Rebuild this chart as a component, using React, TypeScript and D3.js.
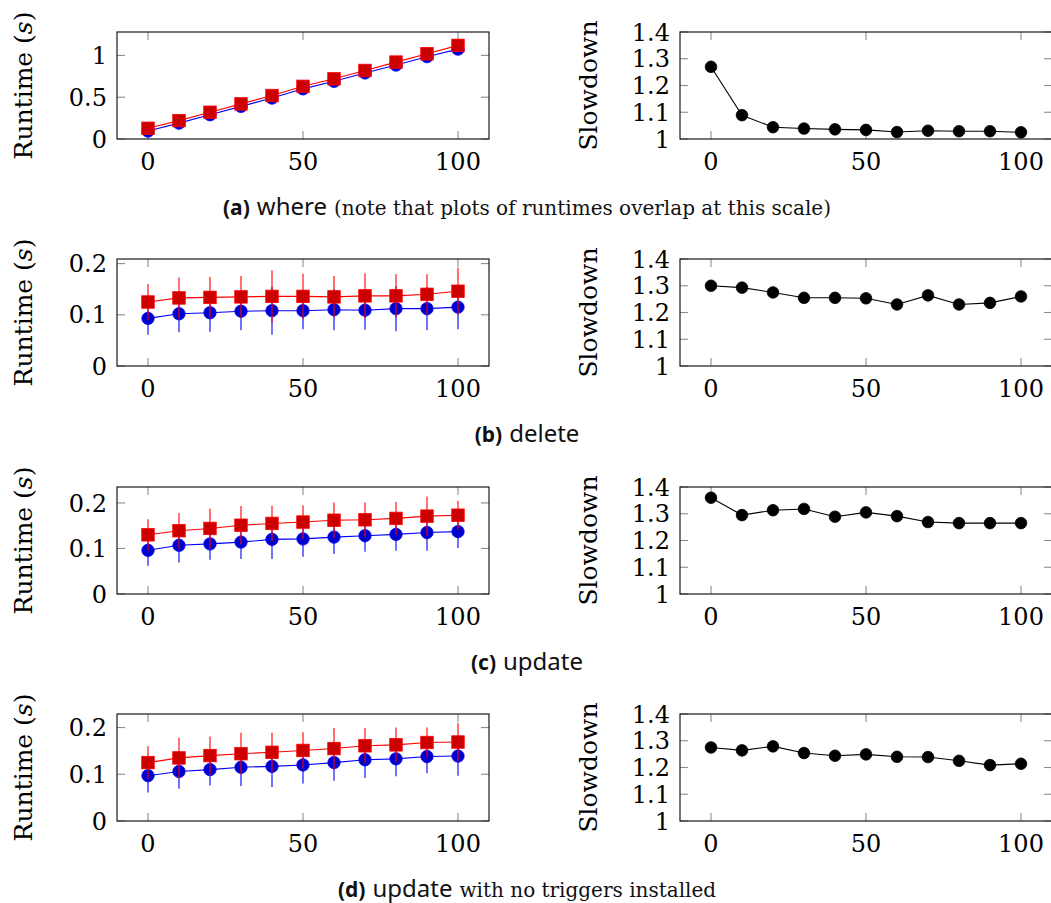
import React, { useRef, useEffect } from 'react';
import * as d3 from 'd3';

// x positions shared by all panels
const xs = [0, 10, 20, 30, 40, 50, 60, 70, 80, 90, 100];
const xTicks = [0, 50, 100];

// (a) where
const whereBase = [0.095, 0.19, 0.29, 0.39, 0.49, 0.6, 0.69, 0.79, 0.885, 0.985, 1.075];
const whereTrig = [0.128, 0.22, 0.32, 0.42, 0.52, 0.63, 0.72, 0.82, 0.92, 1.02, 1.12];
const whereSlow = [1.27, 1.089, 1.044, 1.039, 1.036, 1.034, 1.026, 1.031, 1.029, 1.029, 1.025];

// (b) delete
const deleteBase = [0.093, 0.102, 0.104, 0.107, 0.108, 0.108, 0.11, 0.109, 0.112, 0.112, 0.115];
const deleteBaseErr = [0.032, 0.036, 0.037, 0.037, 0.047, 0.036, 0.04, 0.038, 0.044, 0.042, 0.043];
const deleteTrig = [0.125, 0.133, 0.134, 0.135, 0.136, 0.136, 0.135, 0.137, 0.137, 0.14, 0.146];
const deleteTrigErr = [0.035, 0.04, 0.04, 0.041, 0.051, 0.044, 0.041, 0.044, 0.042, 0.039, 0.046];
const deleteSlow = [1.3, 1.293, 1.275, 1.255, 1.255, 1.253, 1.23, 1.264, 1.23, 1.236, 1.26];

// (c) update
const updateBase = [0.096, 0.107, 0.11, 0.114, 0.12, 0.121, 0.125, 0.128, 0.131, 0.135, 0.137];
const updateBaseErr = [0.034, 0.038, 0.035, 0.037, 0.043, 0.039, 0.037, 0.035, 0.036, 0.04, 0.036];
const updateTrig = [0.13, 0.139, 0.144, 0.151, 0.155, 0.158, 0.162, 0.163, 0.166, 0.171, 0.173];
const updateTrigErr = [0.034, 0.039, 0.044, 0.042, 0.039, 0.037, 0.039, 0.038, 0.036, 0.043, 0.032];
const updateSlow = [1.36, 1.295, 1.313, 1.318, 1.289, 1.305, 1.291, 1.269, 1.265, 1.265, 1.265];

// (d) update, no triggers installed
const noTrigBase = [0.097, 0.106, 0.11, 0.115, 0.117, 0.12, 0.125, 0.131, 0.133, 0.138, 0.139];
const noTrigBaseErr = [0.036, 0.037, 0.034, 0.04, 0.044, 0.04, 0.039, 0.039, 0.037, 0.036, 0.042];
const noTrigTrig = [0.125, 0.135, 0.14, 0.144, 0.147, 0.151, 0.155, 0.161, 0.163, 0.168, 0.169];
const noTrigTrigErr = [0.035, 0.043, 0.041, 0.045, 0.042, 0.039, 0.044, 0.038, 0.037, 0.032, 0.041];
const noTrigSlow = [1.275, 1.264, 1.279, 1.254, 1.244, 1.249, 1.24, 1.239, 1.225, 1.209, 1.214];

// axis ranges and tick labels
const runtimeMax = [1.28, 0.209, 0.235, 0.229];
const runtimeTicks = [[0, 0.5, 1], [0, 0.1, 0.2], [0, 0.1, 0.2], [0, 0.1, 0.2]];
const slowTicks = [1, 1.1, 1.2, 1.3, 1.4];

const captionTags = ['(a)', '(b)', '(c)', '(d)'];
const captionCmds = ['where', 'delete', 'update', 'update'];
const captionNotes = ['(note that plots of runtimes overlap at this scale)', '', '', 'with no triggers installed'];

const SERIF = 'DejaVu Serif';
const SANS = 'Noto Sans';

const App = () => {
  const svgRef = useRef(null);

  useEffect(() => {
    const width = 1051;
    const height = 903;
    const svg = d3.select(svgRef.current)
      .attr('width', width)
      .attr('height', height);
    svg.selectAll('*').remove();

    const rows = [
      { box: [32, 139], base: whereBase, baseErr: null, trig: whereTrig, trigErr: null, slow: whereSlow },
      { box: [259, 366], base: deleteBase, baseErr: deleteBaseErr, trig: deleteTrig, trigErr: deleteTrigErr, slow: deleteSlow },
      { box: [487, 594], base: updateBase, baseErr: updateBaseErr, trig: updateTrig, trigErr: updateTrigErr, slow: updateSlow },
      { box: [714, 821], base: noTrigBase, baseErr: noTrigBaseErr, trig: noTrigTrig, trigErr: noTrigTrigErr, slow: noTrigSlow },
    ];

    const leftRange = [117, 489];
    const rightRange = [680, 1052];

    // frame + inward ticks + labels for one axis box
    const drawFrame = (g, x, y, yTicks, ylabel, labelX) => {
      const [x0, x1] = x.range();
      const [y0, y1] = y.range(); // y0 bottom, y1 top
      const tk = 8;

      const ticks = g.append('g').attr('stroke', '#8c8c8c').attr('stroke-width', 1.1);
      xTicks.forEach(t => {
        ticks.append('line').attr('x1', x(t)).attr('x2', x(t)).attr('y1', y0).attr('y2', y0 - tk);
        ticks.append('line').attr('x1', x(t)).attr('x2', x(t)).attr('y1', y1).attr('y2', y1 + tk);
      });
      yTicks.forEach(t => {
        ticks.append('line').attr('x1', x0).attr('x2', x0 + tk).attr('y1', y(t)).attr('y2', y(t));
        ticks.append('line').attr('x1', x1).attr('x2', x1 - tk).attr('y1', y(t)).attr('y2', y(t));
      });

      g.append('g').selectAll('text')
        .data(xTicks)
        .enter().append('text')
        .attr('x', d => x(d))
        .attr('y', y0 + 31)
        .attr('text-anchor', 'middle')
        .style('font-family', SERIF)
        .style('font-size', '24px')
        .text(d => d);

      g.append('g').selectAll('text')
        .data(yTicks)
        .enter().append('text')
        .attr('x', x0 - 10)
        .attr('y', d => y(d))
        .attr('dy', '0.36em')
        .attr('text-anchor', 'end')
        .style('font-family', SERIF)
        .style('font-size', '24px')
        .text(d => String(+d.toFixed(2)));

      const lab = g.append('text')
        .attr('transform', `translate(${labelX},${(y0 + y1) / 2}) rotate(-90)`)
        .attr('text-anchor', 'middle')
        .attr('dy', '0.35em')
        .style('font-family', SERIF)
        .style('font-size', '25px');
      if (ylabel === 'runtime') {
        lab.append('tspan').text('Runtime (');
        lab.append('tspan').style('font-style', 'italic').text('s');
        lab.append('tspan').text(')');
      } else {
        lab.text('Slowdown');
      }
    };

    const drawSeries = (g, x, y, vals, errs, color, fill, mark) => {
      const pts = xs.map((d, i) => [d, vals[i]]);
      const line = d3.line().x(d => x(d[0])).y(d => y(d[1]));
      g.append('path')
        .attr('d', line(pts))
        .attr('fill', 'none')
        .attr('stroke', color)
        .attr('stroke-width', 1.1);

      if (errs) {
        g.append('g').selectAll('line')
          .data(pts)
          .enter().append('line')
          .attr('x1', d => x(d[0]))
          .attr('x2', d => x(d[0]))
          .attr('y1', (d, i) => y(d[1] - errs[i]))
          .attr('y2', (d, i) => y(d[1] + errs[i]))
          .attr('stroke', color)
          .attr('stroke-width', 1.3)
          .attr('stroke-opacity', 0.85);
      }

      if (mark === 'square') {
        const s = 12.5;
        g.append('g').selectAll('rect')
          .data(pts)
          .enter().append('rect')
          .attr('x', d => x(d[0]) - s / 2)
          .attr('y', d => y(d[1]) - s / 2)
          .attr('width', s)
          .attr('height', s)
          .attr('fill', fill)
          .attr('stroke', color)
          .attr('stroke-width', 0.8);
      } else {
        g.append('g').selectAll('circle')
          .data(pts)
          .enter().append('circle')
          .attr('cx', d => x(d[0]))
          .attr('cy', d => y(d[1]))
          .attr('r', mark === 'big' ? 5.8 : 6.2)
          .attr('fill', fill)
          .attr('stroke', color)
          .attr('stroke-width', 0.8);
      }
    };

    rows.forEach((row, r) => {
      const [top, bottom] = row.box;

      // runtime panel
      const gl = svg.append('g');
      const xl = d3.scaleLinear().domain([-10, 110]).range(leftRange);
      const yl = d3.scaleLinear().domain([0, runtimeMax[r]]).range([bottom, top]);
      drawFrame(gl, xl, yl, runtimeTicks[r], 'runtime', 23);
      drawSeries(gl, xl, yl, row.base, row.baseErr, '#0000ff', '#0000cc', 'circle');
      drawSeries(gl, xl, yl, row.trig, row.trigErr, '#ff0000', '#cc0000', 'square');
      gl.append('rect')
        .attr('x', leftRange[0]).attr('y', top)
        .attr('width', leftRange[1] - leftRange[0]).attr('height', bottom - top)
        .attr('fill', 'none').attr('stroke', '#1a1a1a').attr('stroke-width', 1.2);

      // slowdown panel
      const gr = svg.append('g');
      const xr = d3.scaleLinear().domain([-10, 110]).range(rightRange);
      const yr = d3.scaleLinear().domain([1, 1.4]).range([bottom, top]);
      drawFrame(gr, xr, yr, slowTicks, 'slowdown', 588);
      drawSeries(gr, xr, yr, row.slow, null, '#000000', '#000000', 'big');
      gr.append('rect')
        .attr('x', rightRange[0]).attr('y', top)
        .attr('width', rightRange[1] - rightRange[0]).attr('height', bottom - top)
        .attr('fill', 'none').attr('stroke', '#1a1a1a').attr('stroke-width', 1.2);

      // caption
      const cap = svg.append('text')
        .attr('x', 527)
        .attr('y', bottom + 76)
        .attr('text-anchor', 'middle')
        .attr('fill', '#111');
      cap.append('tspan')
        .style('font-family', SANS).style('font-weight', 700).style('font-size', '21px')
        .text(captionTags[r]);
      cap.append('tspan')
        .attr('dx', 7)
        .style('font-family', SANS).style('font-size', '24px')
        .text(captionCmds[r]);
      if (captionNotes[r]) {
        cap.append('tspan')
          .attr('dx', 7)
          .style('font-family', SERIF).style('font-size', '20px')
          .text(captionNotes[r]);
      }
    });
  }, []);

  return (
    <div style={{ position: 'absolute', left: 0, top: 0 }}>
      <svg ref={svgRef} style={{ display: 'block', background: '#fff' }} />
    </div>
  );
};

export default App;
